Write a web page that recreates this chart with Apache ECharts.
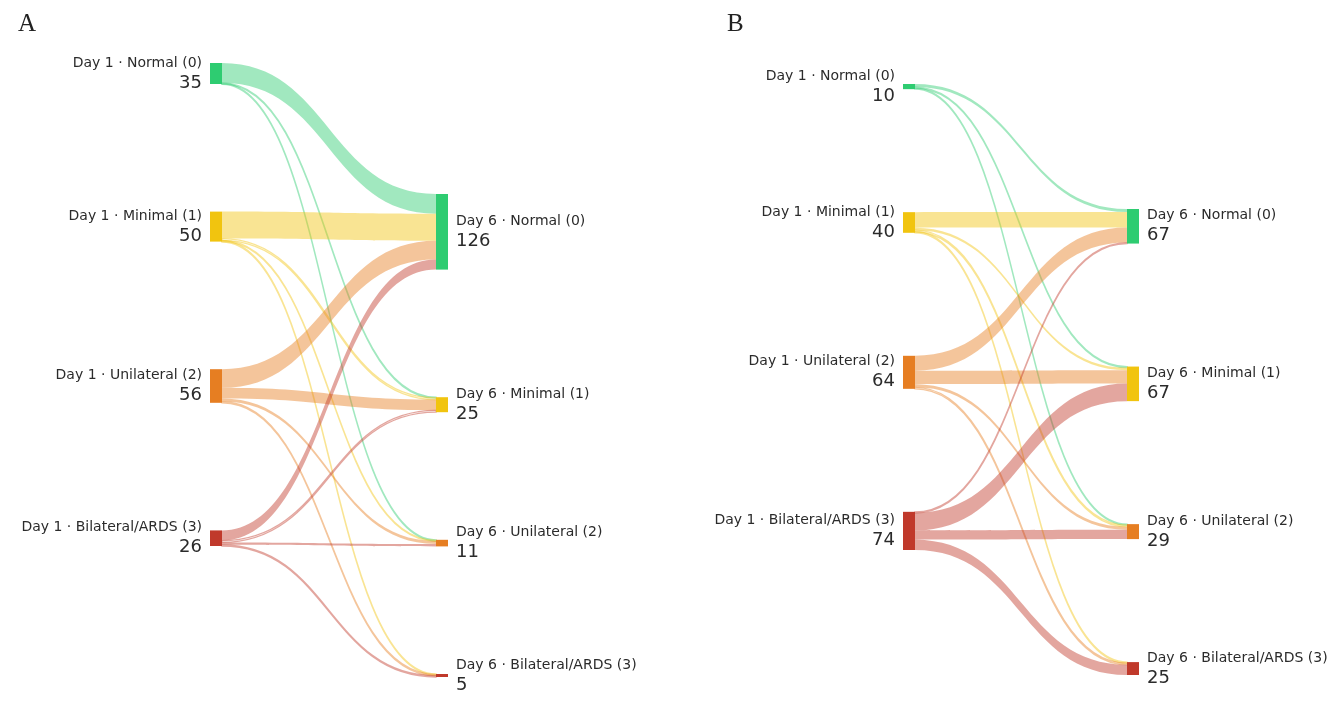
<!DOCTYPE html>
<html>
<head>
<meta charset="utf-8">
<title>Day 1 to Day 6 imaging grade</title>
<script src="https://cdn.jsdelivr.net/npm/echarts@6/dist/echarts.min.js"></script>
<style>
  html, body { margin: 0; padding: 0; background: #fff; }
  #chart { width: 1332px; height: 703px; }
</style>
</head>
<body>
<div id="chart"></div>
<script>
  var grades = ['Normal (0)', 'Minimal (1)', 'Unilateral (2)', 'Bilateral/ARDS (3)']
  var gradeColors = ['#2ecc71', '#f1c40f', '#e67e22', '#c0392b']

  // panel A: patients of each Day 1 grade, split by Day 6 grade (order of grades)
  var aFromNormal = [33, 1, 1, 0]
  var aFromMinimal = [45, 3, 1, 1]
  var aFromUnilateral = [31, 18, 5, 2]
  var aFromBilateral = [17, 3, 4, 2]

  // panel B
  var bFromNormal = [6, 2, 2, 0]
  var bFromMinimal = [30, 5, 3, 2]
  var bFromUnilateral = [29, 26, 6, 3]
  var bFromBilateral = [2, 34, 18, 20]

  function sum (arr) {
    return arr.reduce(function (s, v) { return s + v }, 0)
  }

  // day 1 column hangs from the top, day 6 column sits on the bottom
  function columnLocalY (totals, ky, gap, height, alignBottom) {
    var span = sum(totals) * ky + (totals.length - 1) * gap
    var y = alignBottom ? height - span : 0
    return totals.map(function (v) {
      var t = y / height
      y += v * ky + gap
      return t
    })
  }

  function buildSankey (flows, box) {
    var n = grades.length
    var day1Totals = flows.map(sum)
    var day6Totals = grades.map(function (g, j) {
      return sum(flows.map(function (row) { return row[j] }))
    })
    var total = sum(day1Totals)
    var height = box.bottom - box.top
    var leftY = columnLocalY(day1Totals, box.ky, box.gap, height, false)
    var rightY = columnLocalY(day6Totals, box.ky, box.gap, height, true)

    var nodes = []
    grades.forEach(function (g, i) {
      nodes.push({
        name: 'Day 1 · ' + g,
        value: day1Totals[i],
        localY: leftY[i],
        itemStyle: { color: gradeColors[i] },
        label: { position: 'left' }
      })
    })
    grades.forEach(function (g, i) {
      nodes.push({
        name: 'Day 6 · ' + g,
        value: day6Totals[i],
        localY: rightY[i],
        itemStyle: { color: gradeColors[i] },
        label: { position: 'right' }
      })
    })

    var links = []
    flows.forEach(function (row, i) {
      row.forEach(function (v, j) {
        if (v <= 0) return
        var link = { source: 'Day 1 · ' + grades[i], target: 'Day 6 · ' + grades[j], value: v }
        // hairline flows: draw them as an outline only so they read ~2px wide
        if (v * box.ky < 2) {
          link.lineStyle = { color: 'rgba(0,0,0,0)', borderColor: gradeColors[i], borderWidth: 1.3 }
        }
        links.push(link)
      })
    })

    return {
      type: 'sankey',
      left: box.left,
      top: box.top,
      width: box.width,
      height: height,
      nodeWidth: 12,
      nodeGap: (height - total * box.ky) / (n - 1),
      layoutIterations: 0,
      draggable: false,
      data: nodes,
      links: links,
      itemStyle: { borderWidth: 0 },
      lineStyle: { color: 'source', opacity: 0.45, curveness: 0.5 },
      label: {
        distance: 8,
        color: '#2b2b2b',
        formatter: function (p) {
          return '{n|' + p.name + '}\n{v|' + p.value + '}'
        },
        rich: {
          n: { fontFamily: 'DejaVu Sans', fontSize: 14, lineHeight: 19, color: '#2b2b2b' },
          v: { fontFamily: 'DejaVu Sans', fontSize: 18, lineHeight: 21, color: '#2b2b2b' }
        }
      },
      emphasis: { disabled: true }
    }
  }

  var chart = echarts.init(document.getElementById('chart'))
  chart.setOption({
    backgroundColor: '#fff',
    animation: false,
    title: [
      { text: 'A', left: 13, top: 7, textStyle: { fontFamily: 'Liberation Serif', fontWeight: 'normal', fontSize: 25, color: '#222' } },
      { text: 'B', left: 722, top: 7, textStyle: { fontFamily: 'Liberation Serif', fontWeight: 'normal', fontSize: 25, color: '#222' } }
    ],
    tooltip: { show: false },
    series: [
      buildSankey([aFromNormal, aFromMinimal, aFromUnilateral, aFromBilateral],
        { left: 210, width: 238, top: 63, bottom: 677, ky: 0.6, gap: 127.6 }),
      buildSankey([bFromNormal, bFromMinimal, bFromUnilateral, bFromBilateral],
        { left: 903, width: 236, top: 84, bottom: 675, ky: 0.516, gap: 123 })
    ]
  })
</script>
</body>
</html>
